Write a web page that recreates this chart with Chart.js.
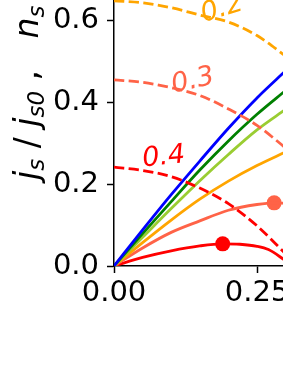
<!DOCTYPE html>
<html>
<head>
<meta charset="utf-8">
<script src="https://cdn.jsdelivr.net/npm/chart.js@4.4.0/dist/chart.umd.min.js"></script>
<style>
    html, body { margin: 0; padding: 0; background: #fff; overflow: hidden; width: 283px; height: 366px; }
    #wrap { position: absolute; left: 0; top: -100px; width: 440px; height: 466px; }
</style>
</head>
<body>
<div id="wrap"><canvas id="chart" width="440" height="466"></canvas></div>
<script>
// shared momentum grid for most curves
const qGrid = [0, 0.05, 0.1, 0.15, 0.2, 0.25, 0.3];

// supercurrent j_s / j_s0 (solid lines)
const jsBlue = [0, 0.088, 0.174, 0.256, 0.336, 0.41, 0.476];
const jsGreen = [0, 0.079, 0.157, 0.234, 0.305, 0.370, 0.428];
const jsYellowGreen = [0, 0.07, 0.14, 0.208, 0.272, 0.332, 0.382];
const jsOrange = [0, 0.057, 0.112, 0.163, 0.207, 0.245, 0.278];
const qTomato = [0, 0.05, 0.1, 0.15, 0.2, 0.25, 0.28, 0.3];
const jsTomato = [0, 0.044, 0.082, 0.110, 0.136, 0.150, 0.154, 0.153];
const qRed = [0, 0.05, 0.1, 0.15, 0.19, 0.22, 0.25, 0.27, 0.3];
const jsRed = [0, 0.021, 0.037, 0.049, 0.054, 0.053, 0.048, 0.040, 0.013];

// superfluid density n_s / n_s0 (dashed lines)
const nsOrange = [0.647, 0.642, 0.630, 0.612, 0.595, 0.562, 0.512];
const nsTomato = [0.454, 0.448, 0.435, 0.416, 0.383, 0.343, 0.288];
const nsRed = [0.241, 0.233, 0.218, 0.190, 0.152, 0.098, 0.03];

// critical current markers
const critQ = [0.19, 0.28];
const critJ = [0.054, 0.154];

// temperature labels on the dashed curves
const tempLabels = ['0.2', '0.3', '0.4'];
const tempLabelQ = [0.189, 0.138, 0.087];
const tempLabelN = [0.627, 0.451, 0.265];

// tick labels
const xTicks = [0, 0.25, 0.5];
const yTicks = [0, 0.2, 0.4, 0.6, 0.8];

const OFFSET_Y = 100; // canvas sits 100px above the window

function pts(xs, ys) {
    return xs.map((x, i) => ({ x: x, y: ys[i] }));
}

function solid(data, color) {
    return { data: data, borderColor: color, borderWidth: 2.8, pointRadius: 0, fill: false, cubicInterpolationMode: 'monotone' };
}

function dashed(data, color) {
    return { data: data, borderColor: color, borderWidth: 2.8, borderDash: [10.3, 4.4], pointRadius: 0, fill: false, cubicInterpolationMode: 'monotone' };
}

const labelColors = ['#ffa500', '#ff6347', '#ff0000'];
const labelAngles = [-17, -13, -6];

const curveLabels = {
    id: 'curveLabels',
    afterDatasetsDraw(chart) {
        const ctx = chart.ctx;
        const xs = chart.scales.x, ys = chart.scales.y;
        ctx.save();
        ctx.font = 'italic 27px "DejaVu Sans"';
        ctx.textAlign = 'center';
        ctx.textBaseline = 'middle';
        tempLabels.forEach((t, i) => {
            ctx.save();
            ctx.translate(xs.getPixelForValue(tempLabelQ[i]), ys.getPixelForValue(tempLabelN[i]));
            ctx.rotate(labelAngles[i] * Math.PI / 180);
            ctx.fillStyle = labelColors[i];
            ctx.fillText(t, 0, 0);
            ctx.restore();
        });
        ctx.restore();
    }
};

// rotated math-style y label: j_s / j_s0 ,  n_s / n_s0
const yLabel = {
    id: 'yLabel',
    afterDraw(chart) {
        const ctx = chart.ctx;
        const big = 'italic 33px "DejaVu Sans"';
        const small = 'italic 23px "DejaVu Sans"';
        const up = '33px "DejaVu Sans"';
        const parts = [
            [big, 'j', 0], [small, 's', 6], [up, ' / ', 0], [big, 'j', 0], [small, 's0', 6],
            [up, ' ,', 0], [up, '   ', 0],
            [big, 'n', 0], [small, 's', 6], [up, ' / ', 0], [big, 'n', 0], [small, 's0', 6]
        ];
        ctx.save();
        ctx.translate(38, 180 + OFFSET_Y);
        ctx.rotate(-Math.PI / 2);
        ctx.fillStyle = '#000';
        ctx.textBaseline = 'alphabetic';
        ctx.textAlign = 'left';
        let x = 0;
        parts.forEach(p => {
            ctx.font = p[0];
            ctx.fillText(p[1], x, p[2]);
            x += ctx.measureText(p[1]).width;
        });
        ctx.restore();
    }
};

const tickFont = { family: 'DejaVu Sans', size: 29 };

new Chart(document.getElementById('chart'), {
    type: 'line',
    data: {
        datasets: [
            dashed(pts(qGrid, nsOrange), '#ffa500'),
            dashed(pts(qGrid, nsTomato), '#ff6347'),
            dashed(pts(qGrid, nsRed), '#ff0000'),
            solid(pts(qGrid, jsBlue), '#0000ff'),
            solid(pts(qGrid, jsGreen), '#008000'),
            solid(pts(qGrid, jsYellowGreen), '#9acd32'),
            solid(pts(qGrid, jsOrange), '#ffa500'),
            solid(pts(qTomato, jsTomato), '#ff6347'),
            solid(pts(qRed, jsRed), '#ff0000'),
            {
                type: 'scatter',
                data: pts(critQ, critJ),
                pointRadius: 7.5,
                pointBackgroundColor: ['#ff0000', '#ff6347'],
                pointBorderWidth: 0,
                showLine: false
            }
        ]
    },
    options: {
        responsive: false,
        devicePixelRatio: 1,
        animation: false,
        layout: { padding: { top: 38, right: 40, left: 0, bottom: 0 } },
        plugins: { legend: { display: false }, tooltip: { enabled: false } },
        scales: {
            x: {
                type: 'linear',
                min: 0,
                max: 0.5,
                afterFit: s => { s.height = 100; },
                afterBuildTicks: s => { s.ticks = xTicks.map(v => ({ value: v })); },
                ticks: { font: tickFont, color: '#000', padding: 3, maxRotation: 0, callback: v => v.toFixed(2) },
                grid: { drawOnChartArea: false, tickLength: 7, tickWidth: 1.5, tickColor: '#000' },
                border: { color: '#000', width: 1.5 }
            },
            y: {
                type: 'linear',
                min: 0,
                max: 0.8,
                afterFit: s => { s.width = 114; },
                afterBuildTicks: s => { s.ticks = yTicks.map(v => ({ value: v })); },
                ticks: { font: tickFont, color: '#000', padding: 8, callback: v => v.toFixed(1) },
                grid: { drawOnChartArea: false, tickLength: 7, tickWidth: 1.5, tickColor: '#000' },
                border: { color: '#000', width: 1.5 }
            }
        }
    },
    plugins: [curveLabels, yLabel]
});
</script>
</body>
</html>
